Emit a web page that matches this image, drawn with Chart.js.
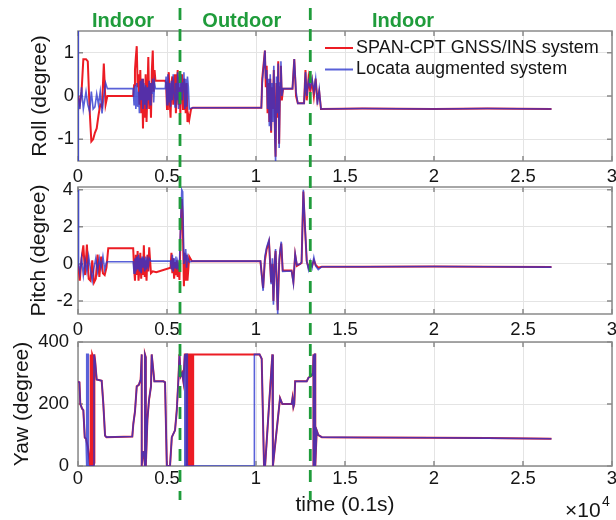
<!DOCTYPE html>
<html>
<head>
<meta charset="utf-8">
<script src="https://cdn.jsdelivr.net/npm/chart.js@4.4.0/dist/chart.umd.min.js"></script>
<style>
  html, body { margin: 0; padding: 0; background: #ffffff; }
  #wrap { position: relative; width: 616px; height: 520px; overflow: hidden; }
  #wrap canvas { position: absolute; left: 0; top: 0; }
</style>
</head>
<body>
<div id="wrap">
  <canvas id="roll" width="616" height="520"></canvas>
  <canvas id="pitch" width="616" height="520"></canvas>
  <canvas id="yaw" width="616" height="520"></canvas>
</div>
<script>
// ---- series names ----
const seriesNames = ['SPAN-CPT GNSS/INS system', 'Locata augmented system'];

// ---- roll (degree) ----
const rollTime = [0, 10, 30, 100, 200, 300, 450, 550, 650, 750, 850, 950, 1050, 1150, 1250, 1350, 1450, 1550, 1650,
  3100, 3150, 3200, 3250, 3300, 3350, 3400, 3450, 3500, 3550, 3600, 3650, 3700, 3750, 3800, 3850, 3900, 3950,
  4000, 4050, 4100, 4150, 4200, 4250, 4300, 4350, 4900, 4950, 5000, 5050, 5100, 5150, 5200, 5250, 5300, 5350,
  5400, 5450, 5500, 5550, 5600, 5650, 5700, 5750, 5800, 5850, 5900, 5950, 6000, 6050, 6100, 6150, 6200, 6250,
  6350, 6450, 10300, 10350, 10500, 10550, 10600, 10650, 10700, 10750, 10800, 10850, 10900, 10950, 11000, 11070,
  11100, 11150, 11200, 11250, 11300, 11350, 11400, 11450, 11520, 12050, 12150, 12250, 12350, 12700, 12780, 12850,
  12950, 13050, 13150, 13250, 13350, 13450, 13550, 13650, 16000, 20000, 23000, 26600];
const rollSpan = [0.00, 0.00, -0.05, -0.20, 0.10, 0.85, 0.85, 0.80, -0.30, -1.05, -1.00, -0.85, -0.75, -0.45, -0.20, -0.25, 0.75, -0.20, 0.00,
  0.00, 0.25, 0.60, 0.90, 1.15, 0.20, 0.50, -0.20, 0.60, -0.40, 0.40, -0.75, 0.20, -0.50, 0.50, -0.60, 0.10, 0.90,
  -0.30, 0.30, -0.50, 0.60, 1.05, 0.10, 0.60, 0.35, 0.35, 0.30, -0.30, 0.20, 0.55, -0.10, -0.50, 0.30, 0.45, -0.20,
  0.25, 0.50, -0.40, 0.20, 0.60, -0.20, 0.20, -0.40, 0.30, 0.50, -0.30, 0.40, 0.20, -0.40, 0.30, -0.60, -0.45, -0.55,
  -0.30, -0.27, -0.27, 0.40, 1.05, 0.20, 0.70, -0.40, 0.30, -0.60, 0.40, -0.85, 0.20, -0.30, 0.60, -1.00,
  -1.40, 0.30, -0.50, 0.80, -1.10, 0.20, 0.70, -0.10, 0.17, 0.17, 0.85, 0.00, -0.17, -0.17, 0.60, -0.10,
  0.40, 0.10, 0.35, 0.00, 0.40, -0.10, 0.10, -0.30, -0.29, -0.30, -0.29, -0.30];
const rollLocata = [2.00, -2.00, 0.00, -0.30, 0.20, -0.30, 0.10, -0.20, -0.35, 0.10, -0.30, -0.25, 0.05, -0.20, 0.10, -0.40, 0.00, 0.30, 0.17,
  0.17, -0.20, 0.25, -0.30, 0.30, -0.25, 0.10, -0.40, 0.35, -0.10, 0.40, -0.30, 0.30, -0.20, 0.25, -0.30, 0.20, -0.10,
  0.35, -0.20, 0.30, 0.05, 0.40, -0.15, 0.30, 0.17, 0.17, 0.45, -0.20, 0.50, -0.15, 0.30, -0.25, 0.35, -0.10, 0.50,
  0.10, -0.25, 0.30, -0.10, 0.55, -0.30, 0.45, -0.20, 0.50, -0.10, 0.30, 0.55, -0.30, 0.40, -0.25, 0.45, 0.20, -0.30,
  -0.28, -0.27, -0.27, 0.30, 1.05, 0.40, 0.60, -0.30, 0.40, -0.70, 0.50, -0.80, 0.30, -0.60, 0.70, -1.10,
  -1.50, 0.45, -0.40, 0.75, -1.20, 0.30, 0.80, 0.00, 0.17, 0.17, 0.85, 0.10, -0.17, -0.17, 0.55, 0.00,
  0.35, 0.20, 0.40, 0.10, 0.40, -0.20, 0.15, -0.30, -0.29, -0.30, -0.29, -0.30];

// ---- pitch (degree) ----
const pitchTime = [0, 30, 100, 200, 300, 400, 500, 600, 700, 800, 900, 1000, 1100, 1200, 1300, 1400, 1500, 1600, 1700,
  3100, 3150, 3200, 3250, 3300, 3350, 3400, 3450, 3500, 3550, 3600, 3650, 3700, 3750, 3800, 3850, 3900, 3950, 4000,
  4100, 4200, 4400, 5200, 5250, 5300, 5350, 5400, 5450, 5500, 5550, 5600, 5650, 5700, 5760, 5830, 5880, 5950, 6000,
  6050, 6100, 6150, 6250, 6400, 10250, 10400, 10500, 10600, 10730, 10850, 10920, 10980, 11050, 11100, 11160, 11220,
  11300, 11350, 11420, 11500, 12000, 12100, 12200, 12300, 12480, 12560, 12660, 12750, 12850, 12950, 13050, 13150,
  13250, 13350, 13500, 13700, 16000, 20000, 23000, 26600];
const pitchSpan = [0.00, 0.00, -0.90, 0.30, 1.00, -0.60, 1.05, -0.80, -0.90, 0.20, -1.00, -0.80, 0.50, -0.70, 0.40, -0.50, -0.60, -0.20, 0.85,
  0.85, -0.20, -0.90, 0.50, -0.60, 0.70, -0.90, -0.30, 0.60, -0.80, 0.30, -0.60, 1.00, -0.70, 0.20, -0.90, 0.50, -0.40, 0.90,
  -0.50, -0.40, -0.45, -0.20, 0.60, -0.50, 0.30, -0.80, 0.10, -0.60, 0.20, -0.70, -0.30, -0.86, 1.50, 3.50, 2.50, -1.20, 0.60,
  -0.90, 0.50, -0.90, 0.40, 0.15, 0.15, -1.30, 0.20, 0.80, 1.20, -1.00, 0.00, -2.00, 0.20, 0.70, -0.80, -2.50,
  0.00, 0.60, 1.10, -0.36, -0.36, -0.95, 0.50, -0.10, 0.00, 0.05, 3.90, 2.00, 0.15, -0.20, 0.05, -0.10,
  0.20, -0.05, -0.20, -0.15, -0.15, -0.14, -0.15, -0.17];
const pitchLocata = [4.00, 0.00, -0.50, 0.30, -0.60, 0.20, -0.40, 0.40, -0.30, -0.90, -0.20, 0.30, -0.40, 0.30, -0.20, 0.40, -0.30, 0.10, 0.12,
  0.12, -0.50, 0.30, -0.40, 0.40, -0.30, 0.50, -0.40, 0.30, -0.50, 0.40, -0.20, 0.30, -0.40, 0.40, -0.30, 0.20, -0.10, 0.30,
  0.15, 0.15, 0.15, 0.15, -0.30, 0.50, -0.40, 0.30, -0.20, 0.40, -0.30, 0.10, -0.20, 0.00, 2.00, 4.00, 3.90, 0.00, 0.30,
  0.80, -0.20, 0.40, 0.10, 0.15, 0.15, -1.45, 0.40, 0.90, 1.30, -1.10, 0.30, -2.20, 0.10, 0.80, -1.00, -2.70,
  0.20, 0.70, 1.20, -0.40, -0.38, -1.05, 0.55, -0.05, 0.00, 0.10, 4.00, 2.10, 0.18, -0.30, 0.15, -0.20,
  0.35, -0.10, -0.30, -0.15, -0.15, -0.14, -0.15, -0.17];

// ---- yaw (degree), heading wraps between 0 and 360 ----
const yawSpanTime = [0, 80, 130, 230, 300, 380, 450, 560, 640, 680, 680, 730, 730, 800, 800, 860, 860, 920, 920, 960,
  1050, 1330, 1420, 1520, 1600, 3050, 3110, 3200, 3300, 3420, 3520, 3580, 3580, 3640, 3700, 3760, 3760, 3810, 3810,
  3900, 3990, 4100, 4140, 4290, 4800, 4890, 4990, 5170, 5270, 5450, 5550, 5640, 5700, 5770, 5850, 5920, 6000, 6100,
  6100, 6180, 6180, 6260, 6260, 6340, 6340, 6420, 6420, 6470, 6470, 10200, 10320, 10450, 10510, 10920, 10950, 11350,
  11480, 12000, 12050, 12100, 12150, 12200, 12850, 12950, 13100, 13200, 13230, 13230, 13300, 13300, 13330, 13330,
  13410, 13500, 13700, 16000, 20000, 23000, 26600];
const yawSpan = [272, 270, 200, 185, 180, 92, 88, 60, 20, 0, 360, 355, 0, 5, 360, 350, 0, 10, 360, 340,
  279, 275, 203, 98, 93, 95, 137, 175, 257, 262, 279, 360, 0, 45, 45, 0, 360, 350, 0,
  150, 213, 257, 360, 273, 273, 270, 0, 0, 93, 115, 180, 279, 360, 290, 300, 273, 360, 360,
  0, 0, 360, 360, 0, 0, 360, 360, 0, 0, 360, 360, 346, 0, 0, 360, 0, 219,
  200, 200, 219, 190, 200, 273, 273, 285, 290, 300, 360, 0, 0, 360, 360, 0,
  115, 100, 93, 92, 91, 90, 88];
const yawLocataTime = [0, 80, 130, 230, 300, 380, 450, 490, 490, 570, 580, 900, 900, 960,
  1050, 1330, 1420, 1520, 1600, 3050, 3110, 3200, 3300, 3420, 3520, 3580, 3580, 3640, 3700, 3760, 3760, 3810, 3810,
  3900, 3990, 4100, 4140, 4290, 4800, 4890, 4990, 5170, 5270, 5450, 5550, 5640, 5700, 5770, 5850, 5920, 6000,
  6000, 6060, 6060, 6140, 6140, 9910, 9910, 10200, 10320, 10450, 10510, 10920, 10950, 11350,
  11480, 12000, 12050, 12100, 12150, 12200, 12850, 12950, 13100, 13200, 13230, 13230, 13300, 13300, 13330, 13330,
  13410, 13500, 13700, 16000, 20000, 23000, 26600];
const yawLocata = [272, 270, 200, 185, 180, 92, 88, 0, 360, 360, 0, 0, 360, 340,
  279, 275, 203, 98, 93, 95, 137, 175, 257, 262, 279, 360, 0, 45, 45, 0, 360, 350, 0,
  150, 213, 257, 360, 273, 273, 270, 0, 0, 93, 115, 180, 279, 360, 290, 300, 273, 360,
  0, 0, 360, 360, 0, 0, 360, 360, 346, 0, 0, 360, 0, 219,
  200, 200, 219, 190, 200, 273, 273, 285, 290, 300, 360, 0, 0, 360, 360, 0,
  115, 100, 93, 92, 91, 90, 88];

// ---- axes ----
const timeTicks = [0, 5000, 10000, 15000, 20000, 25000, 30000];
const rollTicks = [-1, 0, 1];
const pitchTicks = [-2, 0, 2, 4];
const yawTicks = [0, 200, 400];

// ---- test phases ----
const switchTimes = [5730, 13050];
const phaseNames = ['Indoor', 'Outdoor', 'Indoor'];
const phaseCentres = [2530, 9200, 18260];

// ---- styling ----
const FONT = "'Liberation Sans', Arial, Helvetica, sans-serif";
const RED = '#ec1c24';
const BLUE = 'rgba(42, 52, 205, 0.78)';
const GREEN = '#1f9c3b';
const FRAME = '#8a8a8a';
const GRID = '#e4e4e4';
const INK = '#151515';

Chart.defaults.font.family = FONT;
Chart.defaults.color = INK;

const toPoints = (times, values) => times.map((t, i) => ({ x: t, y: values[i] }));

// axes box with inward tick marks, drawn beneath the data
const framePlugin = {
  id: 'frame',
  beforeDatasetsDraw(chart) {
    const { ctx, chartArea: a, scales: { x, y } } = chart;
    ctx.save();
    ctx.strokeStyle = FRAME;
    ctx.lineWidth = 1.5;
    ctx.beginPath();
    x.ticks.forEach(t => {
      const p = x.getPixelForValue(t.value);
      ctx.moveTo(p, a.bottom); ctx.lineTo(p, a.bottom - 5);
      ctx.moveTo(p, a.top); ctx.lineTo(p, a.top + 5);
    });
    y.ticks.forEach(t => {
      const p = y.getPixelForValue(t.value);
      ctx.moveTo(a.left, p); ctx.lineTo(a.left + 5, p);
      ctx.moveTo(a.right, p); ctx.lineTo(a.right - 5, p);
    });
    ctx.stroke();
    ctx.strokeRect(a.left, a.top, a.right - a.left, a.bottom - a.top);
    ctx.restore();
  }
};

// legend in the upper right of the roll panel
const legendPlugin = {
  id: 'cornerLegend',
  afterDatasetsDraw(chart, args, opts) {
    if (!opts || !opts.show) return;
    const { ctx, chartArea: a } = chart;
    const x0 = a.right - 287;
    ctx.save();
    ctx.font = '18px ' + FONT;
    ctx.textBaseline = 'middle';
    ctx.textAlign = 'left';
    chart.data.datasets.forEach((ds, i) => {
      const yy = a.top + 17 + i * 21.5;
      ctx.strokeStyle = ds.borderColor;
      ctx.lineWidth = 2;
      ctx.beginPath();
      ctx.moveTo(x0, yy); ctx.lineTo(x0 + 28, yy);
      ctx.stroke();
      ctx.fillStyle = INK;
      ctx.fillText(ds.label, x0 + 31, yy);
    });
    ctx.restore();
  }
};

// phase labels, phase boundaries and the time multiplier
const phasePlugin = {
  id: 'phases',
  afterDraw(chart, args, opts) {
    if (!opts) return;
    const { ctx, scales: { x } } = chart;
    ctx.save();
    if (opts.names) {
      ctx.font = 'bold 20px ' + FONT;
      ctx.fillStyle = GREEN;
      ctx.textAlign = 'center';
      ctx.textBaseline = 'alphabetic';
      phaseNames.forEach((n, i) => ctx.fillText(n, x.getPixelForValue(phaseCentres[i]), 27));
    }
    if (opts.lines) {
      ctx.strokeStyle = GREEN;
      ctx.lineWidth = 2.8;
      ctx.setLineDash([12, 9]);
      switchTimes.forEach(t => {
        const p = x.getPixelForValue(t);
        ctx.beginPath();
        ctx.moveTo(p, 8); ctx.lineTo(p, 500);
        ctx.stroke();
      });
      ctx.setLineDash([]);
    }
    if (opts.multiplier) {
      ctx.fillStyle = INK;
      ctx.textBaseline = 'alphabetic';
      ctx.textAlign = 'left';
      ctx.font = '21px ' + FONT;
      ctx.fillText('\u00d710', 565, 517);
      ctx.font = '14px ' + FONT;
      ctx.fillText('4', 602, 506);
    }
    ctx.restore();
  }
};

function panel(id, cfg) {
  return new Chart(document.getElementById(id), {
    type: 'line',
    data: {
      datasets: [
        // the Locata trace (lower order) is painted over the SPAN-CPT trace
        { label: seriesNames[0], data: cfg.span, order: 1, borderColor: RED, borderWidth: 2, pointRadius: 0, tension: 0, fill: false },
        { label: seriesNames[1], data: cfg.locata, order: 0, borderColor: BLUE, borderWidth: 1.6, pointRadius: 0, tension: 0, fill: false }
      ]
    },
    options: {
      responsive: false,
      animation: false,
      devicePixelRatio: 1,
      events: [],
      layout: { padding: { left: 0, right: 4, top: cfg.top, bottom: cfg.bottom } },
      plugins: {
        legend: { display: false },
        tooltip: { enabled: false },
        cornerLegend: { show: !!cfg.legend },
        phases: cfg.phases || false
      },
      scales: {
        x: {
          type: 'linear',
          min: 0, max: 30000,
          afterBuildTicks: s => { s.ticks = timeTicks.map(v => ({ value: v })); },
          afterFit: s => { s.height = cfg.xHeight; s.paddingLeft = 0; s.paddingRight = 0; },
          grid: { color: GRID, lineWidth: 1, drawTicks: false },
          border: { display: false },
          ticks: {
            autoSkip: false, maxRotation: 0,
            padding: cfg.xPad,
            font: { size: 18.5 },
            color: INK,
            callback: v => String(v / 10000)
          },
          title: cfg.xTitle ? { display: true, text: cfg.xTitle, font: { size: 21 }, color: INK, padding: { top: 0, bottom: 2 } } : { display: false }
        },
        y: {
          type: 'linear',
          min: cfg.min, max: cfg.max,
          afterBuildTicks: s => { s.ticks = cfg.ticks.map(v => ({ value: v })); },
          afterFit: s => { s.width = 78; s.paddingTop = 0; s.paddingBottom = 0; },
          grid: { color: GRID, lineWidth: 1, drawTicks: false },
          border: { display: false },
          ticks: { padding: cfg.yPad, font: { size: 18.5 }, color: INK },
          title: { display: true, text: cfg.yTitle, font: { size: 21 }, color: INK, padding: { top: cfg.titlePad, bottom: 0 } }
        }
      }
    },
    plugins: [framePlugin, legendPlugin, phasePlugin]
  });
}

panel('roll', {
  span: toPoints(rollTime, rollSpan),
  locata: toPoints(rollTime, rollLocata),
  min: -1.5, max: 1.5, ticks: rollTicks,
  top: 31, bottom: 334, xHeight: 25, xPad: 5, yPad: 4, titlePad: 28,
  yTitle: 'Roll (degree)', legend: true,
  phases: { names: true }
});

panel('pitch', {
  span: toPoints(pitchTime, pitchSpan),
  locata: toPoints(pitchTime, pitchLocata),
  min: -2.7, max: 4.15, ticks: pitchTicks,
  top: 187, bottom: 181, xHeight: 25, xPad: 5, yPad: 5, titlePad: 27,
  yTitle: 'Pitch (degree)'
});

panel('yaw', {
  span: toPoints(yawSpanTime, yawSpan),
  locata: toPoints(yawLocataTime, yawLocata),
  min: 0, max: 400, ticks: yawTicks,
  top: 342, bottom: 0, xHeight: 54, xPad: 2, yPad: 9, titlePad: 10,
  yTitle: 'Yaw (degree)', xTitle: 'time (0.1s)',
  phases: { lines: true, multiplier: true }
});
</script>
</body>
</html>
